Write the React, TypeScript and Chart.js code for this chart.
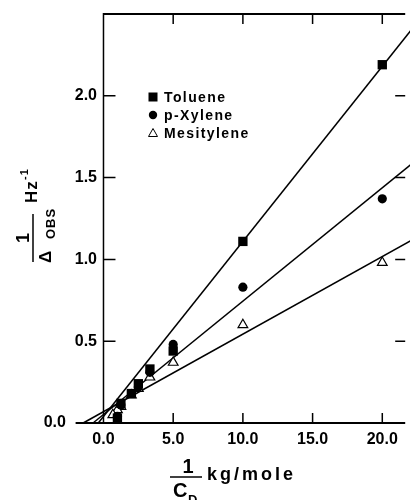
import React, { useEffect, useRef } from "react";
import { Chart, registerables } from "chart.js";

Chart.register(...registerables);

// ---- data ----
const seriesNames = ["Toluene", "p-Xylene", "Mesitylene"];
const tolueneX = [20, 10, 5, 3.33, 2.5, 2.0, 1.25, 1.0];
const tolueneY = [2.19, 1.11, 0.44, 0.33, 0.24, 0.18, 0.12, 0.03];
const xyleneX = [20, 10, 5, 3.33, 2.5, 1.25, 1.0];
const xyleneY = [1.37, 0.83, 0.48, 0.31, 0.22, 0.11, 0.04];
const mesitX = [20, 10, 5, 3.33, 2.5, 2.0, 1.25, 1.0, 0.67];
const mesitY = [0.98, 0.6, 0.37, 0.28, 0.21, 0.17, 0.1, 0.08, 0.05];
// least-squares lines drawn in the figure (slope, intercept)
const fitSlope = [0.107, 0.0693, 0.0474];
const fitIntercept = [0.04, 0.052, 0.069];
const xTicks = [0, 5, 10, 15, 20];
const yTicks = [0, 0.5, 1.0, 1.5, 2.0];
const X_MIN = -0.25;
const X_MAX = 21.5;
const X_AXIS_LEFT = -2;
const Y_MIN = 0;
const Y_MAX = 2.5;

const FONT = "'Liberation Sans', Arial, sans-serif";

const pts = (xs: number[], ys: number[]) => xs.map((x, i) => ({ x, y: ys[i] }));
const fitLine = (i: number) => [
  { x: -fitIntercept[i] / fitSlope[i], y: 0 },
  { x: 23, y: fitSlope[i] * 23 + fitIntercept[i] },
];

const framePlugin = {
  id: "frameAndTitles",
  afterDraw(chart: any) {
    const ctx = chart.ctx as CanvasRenderingContext2D;
    const xs = chart.scales.x;
    const ys = chart.scales.y;
    const ca = chart.chartArea;
    const x0 = xs.getPixelForValue(0);
    const xl = xs.getPixelForValue(X_AXIS_LEFT);
    const yb = ys.getPixelForValue(0);
    const yt = ca.top;
    const xr = ca.right;
    ctx.save();
    ctx.strokeStyle = "#000";
    ctx.fillStyle = "#000";
    ctx.lineCap = "butt";
    // frame
    ctx.lineWidth = 2;
    ctx.beginPath();
    ctx.moveTo(xl, yb);
    ctx.lineTo(xr + 2, yb);
    ctx.moveTo(x0, yt);
    ctx.lineTo(xr + 2, yt);
    ctx.stroke();
    ctx.lineWidth = 1.5;
    ctx.beginPath();
    ctx.moveTo(x0, yt - 1);
    ctx.lineTo(x0, yb);
    ctx.stroke();
    // inward ticks
    ctx.lineWidth = 1.5;
    ctx.beginPath();
    xTicks.forEach((v) => {
      if (v === 0) return;
      const px = xs.getPixelForValue(v);
      ctx.moveTo(px, yb);
      ctx.lineTo(px, yb - 10);
      ctx.moveTo(px, yt);
      ctx.lineTo(px, yt + 10);
    });
    yTicks.forEach((v) => {
      if (v === 0) return;
      const py = ys.getPixelForValue(v);
      ctx.moveTo(x0, py);
      ctx.lineTo(x0 + 12, py);
      ctx.moveTo(xr + 2, py);
      ctx.lineTo(xr - 8, py);
    });
    ctx.stroke();

    // legend
    const lx = 153;
    const rows = [97, 115, 133];
    ctx.fillStyle = "#000";
    ctx.fillRect(lx - 4.5, rows[0] - 4.5, 9, 9);
    ctx.beginPath();
    ctx.arc(lx, rows[1], 4.2, 0, Math.PI * 2);
    ctx.fill();
    ctx.lineWidth = 1;
    ctx.beginPath();
    ctx.moveTo(lx, rows[2] - 4.5);
    ctx.lineTo(lx + 4.5, rows[2] + 3.5);
    ctx.lineTo(lx - 4.5, rows[2] + 3.5);
    ctx.closePath();
    ctx.stroke();
    ctx.font = `bold 14px ${FONT}`;
    (ctx as any).letterSpacing = "1.4px";
    ctx.textAlign = "left";
    ctx.textBaseline = "middle";
    seriesNames.forEach((n, i) => ctx.fillText(n, 164, rows[i] + 1));

    // x-axis title: 1/C_D kg/mole
    (ctx as any).letterSpacing = "0px";
    ctx.textBaseline = "alphabetic";
    ctx.textAlign = "center";
    ctx.font = `bold 20px ${FONT}`;
    ctx.fillText("1", 188, 473);
    ctx.lineWidth = 1.5;
    ctx.beginPath();
    ctx.moveTo(170, 477);
    ctx.lineTo(202, 477);
    ctx.stroke();
    ctx.textAlign = "left";
    ctx.fillText("C", 173, 497);
    ctx.font = `bold 13px ${FONT}`;
    ctx.fillText("D", 188, 504);
    ctx.font = `bold 18px ${FONT}`;
    (ctx as any).letterSpacing = "3px";
    ctx.fillText("kg/mole", 207, 480);
    (ctx as any).letterSpacing = "0px";

    // y-axis title (rotated): 1/Δ_OBS Hz^-1
    ctx.save();
    ctx.translate(33, 238);
    ctx.rotate(-Math.PI / 2);
    ctx.lineWidth = 1.5;
    ctx.beginPath();
    ctx.moveTo(-24, 0);
    ctx.lineTo(24, 0);
    ctx.stroke();
    ctx.textAlign = "center";
    ctx.font = `bold 18px ${FONT}`;
    ctx.fillText("1", 0, -4);
    ctx.textAlign = "left";
    ctx.font = `bold 17px ${FONT}`;
    ctx.fillText("\u0394", -25, 18);
    ctx.font = `bold 13px ${FONT}`;
    (ctx as any).letterSpacing = "1px";
    ctx.fillText("OBS", -1, 22);
    ctx.font = `bold 17px ${FONT}`;
    ctx.fillText("Hz", 35, 4);
    ctx.font = `bold 11px ${FONT}`;
    ctx.fillText("-1", 58, -5);
    ctx.restore();

    ctx.restore();
  },
};

export default function App() {
  const ref = useRef<HTMLCanvasElement | null>(null);
  useEffect(() => {
    if (!ref.current) return;
    const pointBase = {
      type: "scatter" as const,
      showLine: false,
      borderColor: "#000",
      order: 0,
      clip: false,
    };
    const lineBase = {
      type: "line" as const,
      showLine: true,
      pointRadius: 0,
      borderColor: "#000",
      borderWidth: 1.5,
      backgroundColor: "transparent",
      fill: false,
      order: 1,
      clip: false,
    };
    const chart = new Chart(ref.current, {
      type: "scatter",
      data: {
        datasets: [
          { ...lineBase, label: "fit-t", data: fitLine(0) },
          { ...lineBase, label: "fit-x", data: fitLine(1) },
          { ...lineBase, label: "fit-m", data: fitLine(2) },
          {
            ...pointBase,
            label: seriesNames[0],
            data: pts(tolueneX, tolueneY),
            pointStyle: "rect",
            pointRadius: 6.6,
            backgroundColor: "#000",
            borderWidth: 0,
          },
          {
            ...pointBase,
            label: seriesNames[1],
            data: pts(xyleneX, xyleneY),
            pointStyle: "circle",
            pointRadius: 4.6,
            backgroundColor: "#000",
            borderWidth: 0,
          },
          {
            ...pointBase,
            label: seriesNames[2],
            data: pts(mesitX, mesitY),
            pointStyle: "triangle",
            pointRadius: 5.6,
            backgroundColor: "#fff",
            borderWidth: 1.2,
          },
        ] as any,
      },
      options: {
        animation: false,
        responsive: false,
        maintainAspectRatio: false,
        layout: { padding: { top: 14, left: 0, right: 0, bottom: 0 } },
        plugins: { legend: { display: false }, tooltip: { enabled: false } },
        scales: {
          x: {
            type: "linear",
            min: X_MIN,
            max: X_MAX,
            afterBuildTicks: (s: any) => {
              s.ticks = xTicks.map((v) => ({ value: v }));
            },
            afterFit: (s: any) => {
              s.height = 77;
            },
            ticks: {
              callback: (v: any) => Number(v).toFixed(1),
              color: "#000",
              font: { family: FONT, size: 16, weight: "bold" },
              padding: 7,
              maxRotation: 0,
              autoSkip: false,
            },
            grid: { display: false, drawTicks: false },
            border: { display: false },
          },
          y: {
            type: "linear",
            min: Y_MIN,
            max: Y_MAX,
            afterBuildTicks: (s: any) => {
              s.ticks = yTicks.map((v) => ({ value: v }));
            },
            afterFit: (s: any) => {
              s.width = 100;
            },
            ticks: {
              callback: (v: any) =>
                Number(v) === 0 ? "0.0       " : Number(v).toFixed(1),
              color: "#000",
              font: { family: FONT, size: 16, weight: "bold" },
              padding: 3,
              autoSkip: false,
            },
            grid: { display: false, drawTicks: false },
            border: { display: false },
          },
        },
      } as any,
      plugins: [framePlugin],
    });
    return () => chart.destroy();
  }, []);
  return (
    <div style={{ position: "absolute", left: 0, top: 0, width: 410, height: 500, background: "#fff" }}>
      <canvas ref={ref} width={410} height={500} style={{ display: "block" }} />
    </div>
  );
}
